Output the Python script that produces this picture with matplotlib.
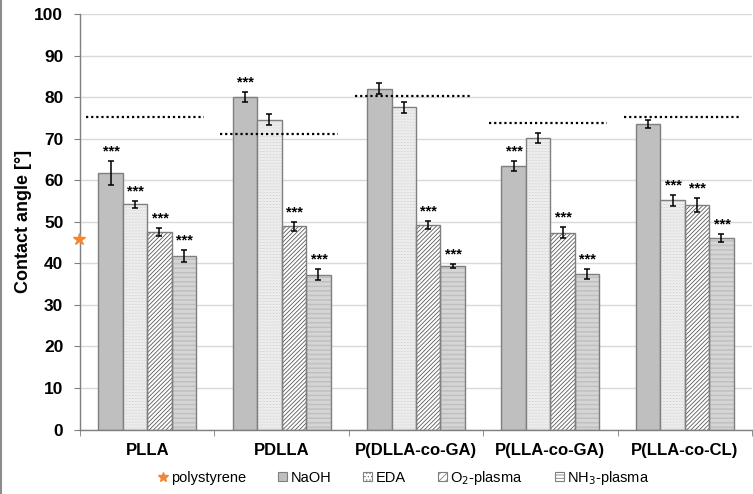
import numpy as np
import matplotlib
matplotlib.use('Agg')
import matplotlib.pyplot as plt
from matplotlib.lines import Line2D
from matplotlib.patches import Patch

plt.rcParams['font.family'] = ['Liberation Sans', 'DejaVu Sans']
plt.rcParams['hatch.linewidth'] = 0.6

##### DATA:
polymers = ['PLLA', 'PDLLA', 'P(DLLA-co-GA)', 'P(LLA-co-GA)', 'P(LLA-co-CL)']
treatments = ['NaOH', 'EDA', 'O$_2$-plasma', 'NH$_3$-plasma']

naoh = [61.7, 80.1, 82.1, 63.5, 73.5]
eda = [54.2, 74.6, 77.6, 70.2, 55.2]
o2_plasma = [47.5, 48.9, 49.2, 47.4, 54.0]
nh3_plasma = [41.8, 37.3, 39.3, 37.4, 46.1]

naoh_err = [2.9, 1.2, 1.3, 1.2, 1.0]
eda_err = [0.8, 1.3, 1.3, 1.2, 1.3]
o2_err = [1.0, 1.1, 0.9, 1.3, 1.7]
nh3_err = [1.5, 1.3, 0.5, 1.2, 0.9]

# significance (***) flags for each bar
naoh_sig = [True, True, False, True, False]
eda_sig = [True, False, False, False, True]
o2_sig = [True, True, True, True, True]
nh3_sig = [True, True, True, True, True]

# untreated reference values (dotted lines)
untreated = [75.3, 71.2, 80.3, 73.7, 75.2]
polystyrene = 46.0

yticks = list(range(0, 101, 10))

##### STYLES:
edge = '#7f7f7f'
series = [
    (naoh, naoh_err, naoh_sig, '#bfbfbf', None, edge),
    (eda, eda_err, eda_sig, 'white', '...........', '#c4c4c4'),
    (o2_plasma, o2_err, o2_sig, 'white', '////////', '#5a5a5a'),
    (nh3_plasma, nh3_err, nh3_sig, 'white', '-------------', '#b4b4b4'),
]

fig = plt.figure(figsize=(7.53, 4.94), dpi=100)
ax = fig.add_axes([80/753, 64.5/494, 672/753, 415.2/494])

x = np.arange(len(polymers))
width = 0.182
offsets = (np.arange(4) - 1.5) * width

for (vals, errs, sig, fc, hatch, hcol), off in zip(series, offsets):
    xs = x + off
    if hatch:
        # hatch drawn in its own colour, outline drawn on top
        ax.bar(xs, vals, width, color=fc, hatch=hatch, edgecolor=hcol,
               linewidth=0, zorder=2)
        ax.bar(xs, vals, width, fill=False, edgecolor=edge, linewidth=1.0,
               zorder=3)
    else:
        ax.bar(xs, vals, width, color=fc, edgecolor=edge, linewidth=1.0,
               zorder=2)
    ax.errorbar(xs, vals, yerr=errs, fmt='none', ecolor='black', elinewidth=1.1,
                capsize=2.5, capthick=1.1, zorder=4)
    for xi, v, e, s in zip(xs, vals, errs, sig):
        if s:
            ax.annotate('***', (xi, v + e), xytext=(0.5, 7),
                        textcoords='offset points', ha='center', va='center',
                        fontsize=10.5, fontweight='bold', zorder=5)

# untreated references as dotted lines
ax.hlines(untreated, x - 0.455, x + 0.42, colors='black', lw=1.6,
          linestyles=[(0, (1, 1.3))], zorder=5)

# polystyrene reference star on the axis
ax.plot([-0.51], [polystyrene], marker='*', color='#f0883a', ms=9,
        ls='none', clip_on=False, zorder=6)

# axes styling
ax.set_xlim(-0.5, len(polymers) - 0.5)
ax.set_ylim(0, 100)
ax.set_yticks(yticks)
ax.set_xticks(x)
ax.set_xticklabels(polymers, fontsize=12, fontweight='bold')
ax.set_xticks(np.arange(len(polymers) + 1) - 0.5, minor=True)
ax.tick_params(axis='x', which='major', length=0, pad=10)
ax.tick_params(axis='x', which='minor', length=4, color=edge, direction='out')
ax.tick_params(axis='y', length=4, color=edge, pad=8)
for lab in ax.get_yticklabels():
    lab.set_fontsize(12.5)
    lab.set_fontweight('bold')
ax.set_ylabel('Contact angle [°]', fontsize=13, fontweight='bold', labelpad=2)

ax.grid(axis='y', color='#d9d9d9', lw=1.0, zorder=0)
ax.set_axisbelow(True)
for side in ('top', 'right'):
    ax.spines[side].set_visible(False)
for side in ('left', 'bottom'):
    ax.spines[side].set_color(edge)
    ax.spines[side].set_linewidth(1.0)
ax.spines['bottom'].set_zorder(6)

# legend
handles = [Line2D([], [], marker='*', color='#f0883a', ls='none', ms=7)]
labels = ['polystyrene']
for (vals, errs, sig, fc, hatch, hcol), name in zip(series, treatments):
    h = hatch[:5] if hatch else None
    handles.append(Patch(facecolor=fc, edgecolor=edge, hatch=h, lw=0.8))
    labels.append(name)
fig.legend(handles, labels, loc='center', bbox_to_anchor=(404/753, 1 - 478/494),
           ncol=5, frameon=False, fontsize=10.5, handlelength=0.6,
           handleheight=0.6, handletextpad=0.25, columnspacing=2.2)

# outer border on the left edge
fig.add_artist(Line2D([0.0015, 0.0015], [0, 1], transform=fig.transFigure,
                      color='#8c8c8c', lw=1.5))

fig.savefig('out.png', dpi=100)
